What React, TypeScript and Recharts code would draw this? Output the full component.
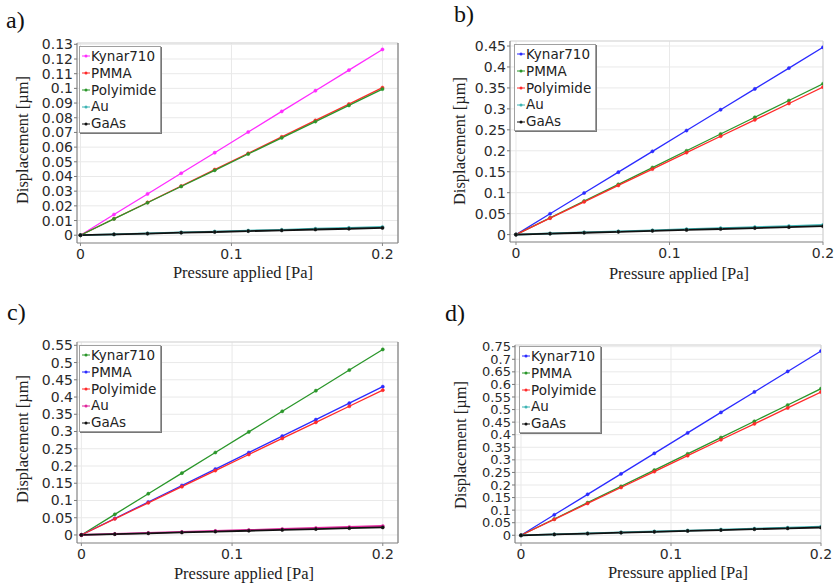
import React from 'react';
import { LineChart, Line, XAxis, YAxis, CartesianGrid, Legend, ReferenceLine } from 'recharts';

// pressure applied [Pa], shared by every panel
const pressure = [0, 0.0222, 0.0444, 0.0667, 0.0889, 0.1111, 0.1333, 0.1556, 0.1778, 0.2];
const xTicks = [0, 0.1, 0.2];

// a)
const kynarA = [0, 0.0141, 0.0281, 0.0422, 0.0562, 0.0703, 0.0843, 0.0984, 0.1124, 0.1265];
const pmmaA = [0, 0.0112, 0.0223, 0.0335, 0.0447, 0.0558, 0.067, 0.0782, 0.0893, 0.1005];
const polyA = [0, 0.0111, 0.0221, 0.0332, 0.0442, 0.0553, 0.0663, 0.0774, 0.0884, 0.0995];
const auA = [0, 0.0006, 0.0012, 0.0019, 0.0025, 0.0031, 0.0037, 0.0044, 0.005, 0.0056];
const gaasA = [0, 0.0006, 0.0011, 0.0017, 0.0022, 0.0028, 0.0033, 0.0039, 0.0044, 0.005];
const yTicksA = [0, 0.01, 0.02, 0.03, 0.04, 0.05, 0.06, 0.07, 0.08, 0.09, 0.1, 0.11, 0.12, 0.13];

// b)
const kynarB = [0, 0.0497, 0.0993, 0.149, 0.1987, 0.2483, 0.298, 0.3477, 0.3973, 0.447];
const pmmaB = [0, 0.04, 0.08, 0.12, 0.16, 0.2, 0.24, 0.28, 0.32, 0.36];
const polyB = [0, 0.0391, 0.0782, 0.1173, 0.1564, 0.1956, 0.2347, 0.2738, 0.3129, 0.352];
const auB = [0, 0.0026, 0.0051, 0.0077, 0.0102, 0.0128, 0.0153, 0.0179, 0.0204, 0.023];
const gaasB = [0, 0.0022, 0.0044, 0.0067, 0.0089, 0.0111, 0.0133, 0.0156, 0.0178, 0.02];
const yTicksB = [0, 0.05, 0.1, 0.15, 0.2, 0.25, 0.3, 0.35, 0.4, 0.45];

// c)
const kynarC = [0, 0.0598, 0.1196, 0.1793, 0.2391, 0.2989, 0.3587, 0.4184, 0.4782, 0.538];
const pmmaC = [0, 0.0478, 0.0956, 0.1433, 0.1911, 0.2389, 0.2867, 0.3344, 0.3822, 0.43];
const polyC = [0, 0.0467, 0.0933, 0.14, 0.1867, 0.2333, 0.28, 0.3267, 0.3733, 0.42];
const auC = [0, 0.0029, 0.0058, 0.0087, 0.0116, 0.0144, 0.0173, 0.0202, 0.0231, 0.026];
const gaasC = [0, 0.0024, 0.0049, 0.0073, 0.0098, 0.0122, 0.0147, 0.0171, 0.0196, 0.022];
const yTicksC = [0, 0.05, 0.1, 0.15, 0.2, 0.25, 0.3, 0.35, 0.4, 0.45, 0.5, 0.55];

// d)
const kynarD = [0, 0.0814, 0.1629, 0.2443, 0.3258, 0.4072, 0.4887, 0.5701, 0.6516, 0.733];
const pmmaD = [0, 0.0648, 0.1296, 0.1943, 0.2591, 0.3239, 0.3887, 0.4534, 0.5182, 0.583];
const polyD = [0, 0.0633, 0.1267, 0.19, 0.2533, 0.3167, 0.38, 0.4433, 0.5067, 0.57];
const auD = [0, 0.0038, 0.0076, 0.0113, 0.0151, 0.0189, 0.0227, 0.0264, 0.0302, 0.034];
const gaasD = [0, 0.0034, 0.0069, 0.0103, 0.0138, 0.0172, 0.0207, 0.0241, 0.0276, 0.031];
const yTicksD = [0, 0.05, 0.1, 0.15, 0.2, 0.25, 0.3, 0.35, 0.4, 0.45, 0.5, 0.55, 0.6, 0.65, 0.7, 0.75];

const MAGENTA = '#ff2cff';
const RED = '#ff2a2a';
const GREEN = '#2a962a';
const TEAL = '#3fb4b4';
const BLACK = '#111111';
const BLUE = '#2b2bff';
const PINK = '#e0269c';

const names = ['Kynar710', 'PMMA', 'Polyimide', 'Au', 'GaAs'];

const build = (k: number[], pm: number[], po: number[], au: number[], ga: number[]) =>
  pressure.map((p, i) => ({ p, Kynar710: k[i], PMMA: pm[i], Polyimide: po[i], Au: au[i], GaAs: ga[i] }));

const fmt = (v: number) => String(parseFloat(v.toFixed(2)));

const LegendBox = ({ payload }: any) => {
  const items = [...(payload || [])].sort((a: any, b: any) => names.indexOf(a.value) - names.indexOf(b.value));
  return (
    <div
      style={{
        background: '#fff',
        border: '1px solid #a0a0a0',
        boxShadow: '1px 1px 0 #777',
        padding: '1px 4px 0 1px',
        fontFamily: '"DejaVu Sans", sans-serif',
        fontSize: 13.5,
        color: '#222',
        lineHeight: '16.8px',
      }}
    >
      {items.map((e: any) => (
        <div key={e.value} style={{ display: 'flex', alignItems: 'center', whiteSpace: 'nowrap' }}>
          <svg width={10} height={10} style={{ flex: 'none' }}>
            <line x1={1} y1={5} x2={9} y2={5} stroke={e.color} strokeWidth={1} />
            <circle cx={5} cy={5} r={1.5} fill={e.color} />
          </svg>
          <span>{e.value}</span>
        </div>
      ))}
    </div>
  );
};

interface PanelProps {
  tag: string;
  left: number;
  top: number;
  width: number;
  height: number;
  margin: { top: number; right: number; bottom: number; left: number };
  yWidth: number;
  xHeight: number;
  xDomain: [number, number];
  yDomain: [number, number];
  yTicks: number[];
  yFont: number;
  data: any[];
  colors: string[];
  legendPos: { left: number; top: number };
  xTitle: { x: number; y: number };
  yTitle: { x: number; y: number };
  tagPos: { left: number; top: number };
  rightBorder: string;
}

const Panel = (pp: PanelProps) => (
  <div style={{ position: 'absolute', left: pp.left, top: pp.top, width: pp.width, height: pp.height }}>
    <div
      style={{
        position: 'absolute',
        left: pp.tagPos.left,
        top: pp.tagPos.top,
        fontFamily: '"Liberation Serif", serif',
        fontSize: 24,
        lineHeight: '24px',
        color: '#111',
      }}
    >
      {pp.tag}
    </div>
    <LineChart width={pp.width} height={pp.height} data={pp.data} margin={pp.margin}>
      <CartesianGrid stroke="#e9e9e9" strokeWidth={1} />
      <XAxis
        type="number"
        dataKey="p"
        domain={pp.xDomain}
        ticks={xTicks}
        allowDataOverflow
        interval={0}
        height={pp.xHeight}
        tickFormatter={fmt}
        tickSize={3}
        tickMargin={3}
        stroke="#888"
        tick={{ fontFamily: '"DejaVu Sans", sans-serif', fontSize: 14, fill: '#2a2a2a' }}
        label={{
          content: () => (
            <text
              x={pp.xTitle.x}
              y={pp.xTitle.y}
              textAnchor="middle"
              fontFamily='"Liberation Serif", serif'
              fontSize={16.5}
              fill="#222"
            >
              Pressure applied [Pa]
            </text>
          ),
        }}
      />
      <YAxis
        type="number"
        domain={pp.yDomain}
        ticks={pp.yTicks}
        allowDataOverflow
        interval={0}
        width={pp.yWidth}
        tickFormatter={fmt}
        tickSize={3}
        tickMargin={1}
        stroke="#777"
        tick={{ fontFamily: '"DejaVu Sans", sans-serif', fontSize: pp.yFont, fill: '#2a2a2a' }}
        label={{
          content: () => (
            <text
              x={pp.yTitle.x}
              y={pp.yTitle.y}
              transform={`rotate(-90, ${pp.yTitle.x}, ${pp.yTitle.y})`}
              textAnchor="middle"
              dominantBaseline="central"
              fontFamily='"Liberation Serif", serif'
              fontSize={16.5}
              fill="#222"
            >
              Displacement [µm]
            </text>
          ),
        }}
      />
      <ReferenceLine y={pp.yDomain[1]} stroke="#d8d8d8" ifOverflow="visible" />
      <ReferenceLine x={pp.xDomain[1]} stroke={pp.rightBorder} ifOverflow="visible" />
      <Legend
        layout="vertical"
        align="center"
        verticalAlign="middle"
        content={<LegendBox />}
        wrapperStyle={{ left: pp.legendPos.left, top: pp.legendPos.top, width: 'auto', height: 'auto' }}
      />
      {names.map((n, i) => (
        <Line
          key={n}
          type="linear"
          dataKey={n}
          name={n}
          stroke={pp.colors[i]}
          strokeWidth={i >= 3 ? 1.8 : 1.3}
          dot={{ r: 1.6, fill: pp.colors[i], stroke: pp.colors[i], strokeWidth: 0.5 }}
          activeDot={false}
          isAnimationActive={false}
        />
      ))}
    </LineChart>
  </div>
);

export default function App() {
  return (
    <div
      style={{
        position: 'absolute',
        left: 0,
        top: 0,
        width: 834,
        height: 585,
        overflow: 'hidden',
        background: '#fff',
      }}
    >
      <Panel
        tag="a)"
        left={0}
        top={0}
        width={417}
        height={290}
        margin={{ top: 43, right: 19, bottom: 0, left: 0 }}
        yWidth={77}
        xHeight={47}
        xDomain={[-0.0023, 0.2103]}
        yDomain={[-0.0053, 0.1309]}
        yTicks={yTicksA}
        yFont={14}
        data={build(kynarA, pmmaA, polyA, auA, gaasA)}
        colors={[MAGENTA, RED, GREEN, TEAL, BLACK]}
        legendPos={{ left: 79, top: 46 }}
        xTitle={{ x: 243, y: 278 }}
        yTitle={{ x: 22, y: 140 }}
        tagPos={{ left: 6, top: 8 }}
        rightBorder="#666"
      />
      <Panel
        tag="b)"
        left={420}
        top={0}
        width={414}
        height={290}
        margin={{ top: 41, right: 11, bottom: 0, left: 0 }}
        yWidth={90}
        xHeight={48}
        xDomain={[-0.0039, 0.2]}
        yDomain={[-0.0177, 0.462]}
        yTicks={yTicksB}
        yFont={14}
        data={build(kynarB, pmmaB, polyB, auB, gaasB)}
        colors={[BLUE, GREEN, RED, TEAL, BLACK]}
        legendPos={{ left: 94, top: 44 }}
        xTitle={{ x: 259, y: 279 }}
        yTitle={{ x: 39, y: 141 }}
        tagPos={{ left: 34, top: 2 }}
        rightBorder="#d0d0d0"
      />
      <Panel
        tag="c)"
        left={0}
        top={290}
        width={417}
        height={295}
        margin={{ top: 52, right: 19, bottom: 0, left: 0 }}
        yWidth={77}
        xHeight={42}
        xDomain={[-0.0029, 0.2101]}
        yDomain={[-0.0233, 0.5596]}
        yTicks={yTicksC}
        yFont={14}
        data={build(kynarC, pmmaC, polyC, auC, gaasC)}
        colors={[GREEN, BLUE, RED, PINK, BLACK]}
        legendPos={{ left: 79, top: 55 }}
        xTitle={{ x: 244, y: 289 }}
        yTitle={{ x: 22, y: 149 }}
        tagPos={{ left: 7, top: 10 }}
        rightBorder="#666"
      />
      <Panel
        tag="d)"
        left={420}
        top={290}
        width={414}
        height={295}
        margin={{ top: 55, right: 13, bottom: 0, left: 0 }}
        yWidth={95}
        xHeight={42}
        xDomain={[-0.004, 0.2]}
        yDomain={[-0.0307, 0.7568]}
        yTicks={yTicksD}
        yFont={13}
        data={build(kynarD, pmmaD, polyD, auD, gaasD)}
        colors={[BLUE, GREEN, RED, TEAL, BLACK]}
        legendPos={{ left: 99, top: 56 }}
        xTitle={{ x: 258, y: 288 }}
        yTitle={{ x: 40, y: 155 }}
        tagPos={{ left: 25, top: 11 }}
        rightBorder="#d0d0d0"
      />
    </div>
  );
}
